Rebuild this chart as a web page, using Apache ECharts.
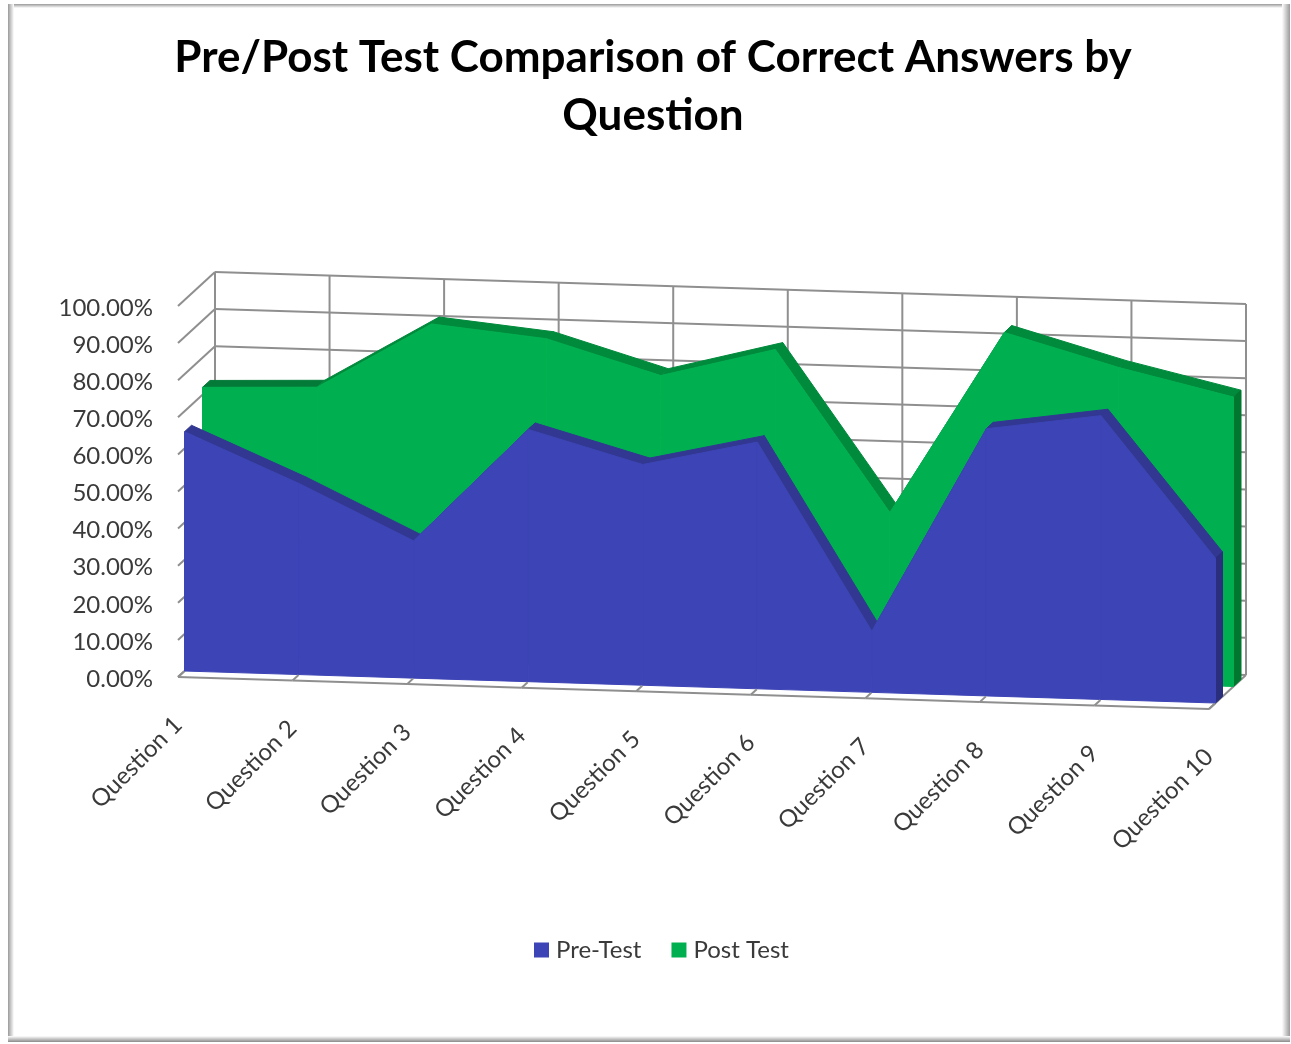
<!DOCTYPE html>
<html>
<head>
<meta charset="utf-8">
<style>
  html, body { margin: 0; padding: 0; background: #fff; }
  #chart { width: 1291px; height: 1044px; }
</style>
<script src="https://cdn.jsdelivr.net/npm/echarts@6/dist/echarts.min.js"></script>
</head>
<body>
<div id="chart"></div>
<script>
const categories = ['Question 1', 'Question 2', 'Question 3', 'Question 4', 'Question 5',
  'Question 6', 'Question 7', 'Question 8', 'Question 9', 'Question 10']
const preTest = [64.5, 51.5, 37, 68, 59.5, 66.5, 16.5, 72, 76.5, 39]
const postTest = [72, 73, 91, 88, 79, 87, 44, 93.5, 85, 78]
const yTicks = [0, 10, 20, 30, 40, 50, 60, 70, 80, 90, 100]

const FONT = 'Lato'
const TEXT_COLOR = '#3a3a3a'
const GRID_LEFT = 178
const SHEAR = 32 / 1031 // floor runs slightly downhill to the right
const DEPTH_RISE = 0.92 // going back one px moves up this much
const WALL_DEPTH = 37
const LIFT = 2 // tick labels sit a little under their gridline
const GRID_COLOR = '#8f8f8f'

// axis coord -> faked 3d screen point
function pt(api, i, v, depth) {
  const c = api.coord([i, v])
  return [c[0] + depth, c[1] - LIFT + (c[0] - GRID_LEFT) * SHEAR - depth * DEPTH_RISE]
}

function line(a, b, z2) {
  return {
    type: 'line',
    z2: z2 || 0,
    shape: { x1: a[0], y1: a[1], x2: b[0], y2: b[1] },
    style: { stroke: GRID_COLOR, lineWidth: 2 }
  }
}

function poly(points, fill, z2) {
  return {
    type: 'polygon',
    z2: z2,
    shape: { points: points },
    style: { fill: fill, stroke: fill, lineWidth: 1 }
  }
}

// one area slab, drawn one segment per data item. z2 has to run across series
function slabSeries(name, values, front, back, z2, faceColor, stripColor, flatColor, sideColor) {
  return {
    name: name,
    type: 'custom',
    coordinateSystem: 'cartesian2d',
    itemStyle: { color: faceColor },
    silent: true,
    data: values.map((v, i) => [i, v]),
    renderItem(params, api) {
      const i = api.value(0)
      const v = api.value(1)
      const children = []
      if (i < values.length - 1) {
        const next = values[i + 1]
        const strip = Math.abs(next - v) < 2 ? flatColor : stripColor
        children.push(poly([pt(api, i, v, front), pt(api, i, v, back), pt(api, i + 1, next, back), pt(api, i + 1, next, front)], strip, z2))
        children.push(poly([pt(api, i, 0, front), pt(api, i, v, front), pt(api, i + 1, next, front), pt(api, i + 1, 0, front)], faceColor, z2 + 1))
      } else {
        children.push(poly([pt(api, i, 0, front), pt(api, i, v, front), pt(api, i, v, back), pt(api, i, 0, back)], sideColor, z2))
      }
      return { type: 'group', children: children }
    }
  }
}

const chart = echarts.init(document.getElementById('chart'))

function bevel(x, y, w, h, x2, y2, from, to) {
  return {
    type: 'rect',
    silent: true,
    shape: { x: x, y: y, width: w, height: h },
    style: {
      fill: new echarts.graphic.LinearGradient(0, 0, x2, y2, [
        { offset: 0, color: from },
        { offset: 1, color: to }
      ])
    }
  }
}

chart.setOption({
  animation: false,
  backgroundColor: '#fff',
  title: {
    text: 'Pre/Post Test Comparison of Correct Answers by\nQuestion',
    left: 648,
    top: 24,
    textAlign: 'center',
    textStyle: { fontFamily: FONT, fontSize: 44, fontWeight: 'bold', color: '#000', lineHeight: 58 }
  },
  legend: {
    data: ['Pre-Test', 'Post Test'],
    left: 529,
    top: 933,
    icon: 'rect',
    itemWidth: 15,
    itemHeight: 15,
    itemGap: 30,
    selectedMode: false,
    textStyle: { fontFamily: FONT, fontSize: 24, color: TEXT_COLOR, padding: [0, 0, 0, 2] }
  },
  graphic: [
    bevel(8, 4, 1282, 4, 0, 1, '#9a9a9a', '#ffffff'),
    bevel(8, 4, 6, 1038, 1, 0, '#9a9a9a', '#ffffff'),
    bevel(1282, 4, 8, 1038, 1, 0, '#ffffff', '#9a9a9a'),
    bevel(8, 1036, 1282, 6, 0, 1, '#ffffff', '#8a8a8a')
  ],
  grid: { left: GRID_LEFT, top: 308, width: 1031, height: 371 },
  xAxis: { type: 'category', data: categories, boundaryGap: false, show: false },
  yAxis: {
    type: 'value',
    min: 0,
    max: 100,
    interval: 10,
    axisLine: { show: false },
    axisTick: { show: false },
    splitLine: { show: false },
    axisLabel: {
      margin: 25,
      fontFamily: FONT,
      fontSize: 24,
      color: TEXT_COLOR,
      formatter: v => v.toFixed(2) + '%'
    }
  },
  series: [
    {
      // back and side wall levels
      type: 'custom',
      coordinateSystem: 'cartesian2d',
      silent: true,
      data: yTicks.map(v => [v]),
      renderItem(params, api) {
        const v = api.value(0)
        const last = categories.length - 1
        return {
          type: 'group',
          children: [
            line(pt(api, 0, v, 0), pt(api, 0, v, WALL_DEPTH)),
            line(pt(api, 0, v, WALL_DEPTH), pt(api, last, v, WALL_DEPTH))
          ]
        }
      }
    },
    {
      // back wall verticals and right floor edge
      type: 'custom',
      coordinateSystem: 'cartesian2d',
      silent: true,
      data: categories.map((c, i) => [i]),
      renderItem(params, api) {
        const i = api.value(0)
        const children = [line(pt(api, i, 0, WALL_DEPTH), pt(api, i, 100, WALL_DEPTH))]
        if (i === categories.length - 1) {
          children.push(line(pt(api, i, 0, 0), pt(api, i, 0, WALL_DEPTH)))
        }
        return { type: 'group', children: children }
      }
    },
    slabSeries('Post Test', postTest, 24.5, 32, 1, '#00b050', '#008a3c', '#047a38', '#00772f'),
    slabSeries('Pre-Test', preTest, 6.5, 13.5, 3, '#3d44b5', '#323792', '#323792', '#2a2e7c'),
    {
      // front floor edge, ticks and category labels go on top of the slabs
      type: 'custom',
      coordinateSystem: 'cartesian2d',
      silent: true,
      data: categories.map((c, i) => [i]),
      renderItem(params, api) {
        const i = api.value(0)
        const base = pt(api, i, 0, 0)
        const children = [
          line(base, pt(api, i, 0, 6), 5),
          {
            type: 'text',
            z2: 5,
            x: base[0],
            y: base[1] + 44,
            rotation: Math.PI / 4,
            style: {
              text: categories[i],
              align: 'right',
              verticalAlign: 'middle',
              fontFamily: FONT,
              fontSize: 24,
              fill: TEXT_COLOR
            }
          }
        ]
        if (i < categories.length - 1) {
          children.push(line(base, pt(api, i + 1, 0, 0), 5))
        }
        return { type: 'group', children: children }
      }
    }
  ]
})
</script>
</body>
</html>
